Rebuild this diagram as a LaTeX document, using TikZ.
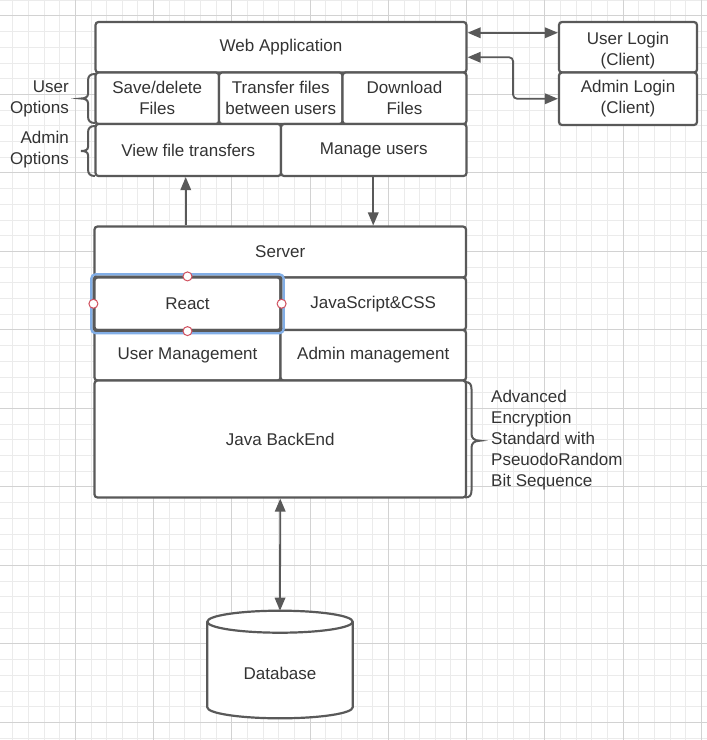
\documentclass[tikz,border=0pt]{standalone}
\usepackage{fontspec}
\setmainfont{Liberation Sans}
\usetikzlibrary{arrows.meta}
\definecolor{edge}{HTML}{595959}
\definecolor{txt}{HTML}{333333}
\definecolor{gridminor}{HTML}{EBEBEB}
\definecolor{gridmajor}{HTML}{D2D2D2}
\definecolor{selblue}{HTML}{82AEE6}
\definecolor{handle}{HTML}{D0505E}
\begin{document}
\begin{tikzpicture}[x=1pt,y=-1pt,
  font=\fontsize{17}{21}\selectfont, text=txt,
  box/.style={draw=edge, line width=2.2pt, rounded corners=3pt, fill=white,
    inner sep=0pt, align=center},
  conn/.style={draw=edge, line width=1.8pt},
  bracestyle/.style={draw=edge, line width=2pt},
  lbl/.style={inner sep=0pt, align=right},
  hnd/.style={circle, draw=handle, fill=white, line width=1pt, minimum size=9pt, inner sep=0pt},
  >={Triangle[length=13pt,width=10.5pt]}]
\useasboundingbox (0,0) rectangle (707,740);
\fill[white] (0,0) rectangle (707,740);
% grid
\foreach \i in {0,...,45} { \draw[gridminor, line width=0.8pt] ({-3+\i*15.65},0) -- ({-3+\i*15.65},740); }
\foreach \i in {0,...,47} { \draw[gridminor, line width=0.8pt] (0,{0.1+\i*15.7}) -- (707,{0.1+\i*15.7}); }
\foreach \i in {0,...,9} { \draw[gridmajor, line width=0.9pt] ({-3+\i*78.25},0) -- ({-3+\i*78.25},740); }
\foreach \i in {0,...,9} { \draw[gridmajor, line width=0.9pt] (0,{15.8+\i*78.5}) -- (707,{15.8+\i*78.5}); }

% top group
\node[box, minimum width=371pt, minimum height=50.5pt] (web) at (281,47.25) {Web Application};
\node[box, minimum width=123.5pt, minimum height=51.5pt] (save) at (157.25,98.25) {Save/delete\\Files};
\node[box, minimum width=123.5pt, minimum height=51.5pt] (transfer) at (280.75,98.25) {Transfer files\\between users};
\node[box, minimum width=124pt, minimum height=51.5pt] (download) at (404.5,98.25) {Download\\Files};
\node[box, minimum width=185.5pt, minimum height=52pt] (view) at (188.25,150) {View file transfers};
\node[box, minimum width=185.5pt, minimum height=52pt] (manage) at (373.75,150) {Manage users};

\node[box, minimum width=138pt, minimum height=50.5pt] (userlogin) at (628,47.25) {};
\node[inner sep=0pt, align=center] (userlogintext) at (628,50.5) {User Login\\(Client)};
\node[box, minimum width=138pt, minimum height=52.5pt] (adminlogin) at (628,98.75) {Admin Login\\(Client)};

\node[lbl, anchor=east] (useropt) at (69,99) {User\\Options};
\node[lbl, anchor=east] (adminopt) at (69,150) {Admin\\Options};

% braces
\draw[bracestyle] (95,74) .. controls (90,74) and (88,76) .. (88,81) -- (88,94) .. controls (88,97) and (85,98.5) .. (81,98.5) .. controls (85,98.5) and (88,100) .. (88,103) -- (88,116) .. controls (88,121) and (90,123) .. (95,123);
\draw[bracestyle] (95,126) .. controls (90,126) and (88,128) .. (88,133) -- (88,147) .. controls (88,150) and (85,151) .. (81,151) .. controls (85,151) and (88,152) .. (88,155) -- (88,169) .. controls (88,174) and (90,176) .. (95,176);

% server group
\node[box, minimum width=371.5pt, minimum height=51pt] (server) at (280.25,252) {Server};
\node[box, minimum width=186pt, minimum height=52.5pt] (react) at (187.5,303.75) {React};
\node[box, minimum width=185.5pt, minimum height=52.5pt] (js) at (373.25,303.75) {JavaScript\&CSS};
\node[box, minimum width=186pt, minimum height=50.5pt] (usermgmt) at (187.5,355.25) {User Management};
\node[box, minimum width=185.5pt, minimum height=50.5pt] (adminmgmt) at (373.25,355.25) {Admin management};
\node[box, minimum width=371.5pt, minimum height=117pt] (java) at (280.25,439) {Java BackEnd};

% selection highlight on React
\draw[selblue, line width=2.4pt, rounded corners=4pt] ([xshift=-2pt,yshift=2pt]react.north west) rectangle ([xshift=2pt,yshift=-2pt]react.south east);
\draw[edge, line width=1.6pt, rounded corners=3pt] (react.north west) rectangle (react.south east);
\node[hnd] (h1) at (react.north) {};
\node[hnd] (h2) at (react.south) {};
\node[hnd] (h3) at (react.west) {};
\node[hnd] (h4) at (react.east) {};

% right brace
\draw[bracestyle] (465,382) .. controls (469.5,382) and (471.5,384) .. (471.5,389) -- (471.5,433.7) .. controls (471.5,438) and (474,440.7) .. (480,440.7) .. controls (474,440.7) and (471.5,443.4) .. (471.5,447.7) -- (471.5,490.5) .. controls (471.5,495.5) and (469.5,497.5) .. (465,497.5);
\node[inner sep=0pt, align=left, anchor=west] (aes) at (491,440.5) {Advanced\\Encryption\\Standard with\\PseuodoRandom\\Bit Sequence};

% database
\draw[edge, line width=2.2pt, fill=white] (207.3,621.7) -- (207.3,707.3) arc[start angle=180, end angle=360, x radius=72.7pt, y radius=11pt] -- (352.7,621.7) arc[start angle=0, end angle=180, x radius=72.7pt, y radius=11pt] -- cycle;
\draw[edge, line width=2.2pt] (207.3,621.7) arc[start angle=180, end angle=360, x radius=72.7pt, y radius=11pt];
\node[inner sep=0pt] (db) at (280,673) {Database};
\coordinate (dbtop) at (280,610.7);

% connectors
\draw[conn, <->] ([yshift=14.5pt]web.east) -- ([yshift=14.5pt]userlogin.west);
\draw[conn, <->, rounded corners=4pt] ([yshift=-10pt]web.east) -- ++(45.5,0) |- (adminlogin.west);
\draw[conn, ->] ([xshift=-2.5pt]view.south |- server.north) -- ([xshift=-2.5pt]view.south);
\draw[conn, ->] ([xshift=-0.5pt]manage.south) -- ([xshift=-0.5pt]manage.south |- server.north);
\draw[conn, <->] (java.south) -- (dbtop);
\end{tikzpicture}
\end{document}
